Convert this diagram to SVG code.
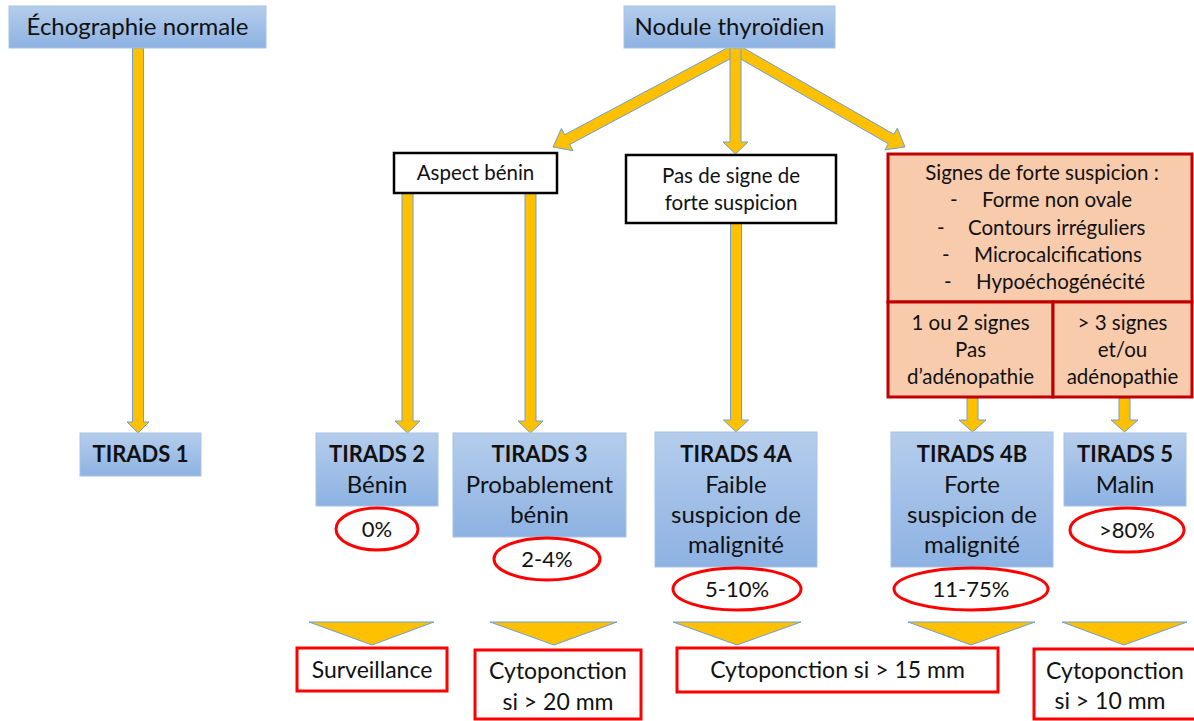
<svg xmlns="http://www.w3.org/2000/svg" width="1194" height="721" viewBox="0 0 1194 721">
<defs>
<linearGradient id="blue" x1="0" y1="0" x2="0" y2="1">
<stop offset="0" stop-color="#b5cdec"/>
<stop offset="1" stop-color="#8db2e2"/>
</linearGradient>
<style>
text{font-family:Lato,"Open Sans","Liberation Sans",sans-serif;fill:#111;text-anchor:middle}
.bx{fill:url(#blue);stroke:#a6c2e6;stroke-width:1}
.wb{fill:#fff;stroke:#000;stroke-width:2.5}
.pk{fill:#f8cbad;stroke:#c00000;stroke-width:3}
.rb{fill:#fff;stroke:#ff0000;stroke-width:3}
.ov{fill:#fff;stroke:#ff0000;stroke-width:3}
.ar{fill:#ffc000;stroke:#6d9fd6;stroke-width:1}
.t24{font-size:24px}
.t21{font-size:20.5px}
.t22{font-size:22px}
.t23{font-size:23px}
.tb{font-size:22px;font-weight:bold}
.tl{text-anchor:start}
</style>
</defs>
<rect width="1194" height="721" fill="#fff"/>
<g id="connectors">
<polygon class="ar" points="732.5,45.1 564.7,134.7 561.4,128.5 553,147 573,150.7 569.7,144.5 737.5,54.9"/>
<polygon class="ar" points="738.7,45.2 893.9,134.3 897.3,128.2 905,147 884.9,149.9 888.4,143.8 733.3,54.8"/>
<polygon class="ar" points="730,48 741,48 741,142 748,142 735.5,154 723,142 730,142"/>
<polygon class="ar" points="132.5,48 143.5,48 143.5,422 149,422 138,433 127,422 132.5,422"/>
<polygon class="ar" points="402,193 413,193 413,421 420,421 407.5,433 395,421 402,421"/>
<polygon class="ar" points="525,193 536,193 536,421 543,421 530.5,433 518,421 525,421"/>
<polygon class="ar" points="730.5,223 741.5,223 741.5,420 748.5,420 736,432 723.5,420 730.5,420"/>
<polygon class="ar" points="967,398 978,398 978,420 986,420 972.5,432 959,420 967,420"/>
<polygon class="ar" points="1119,398 1130,398 1130,420 1138,420 1124.5,432 1111,420 1119,420"/>
<polygon class="ar" points="309,622 434,622 372,645"/>
<polygon class="ar" points="490,622 617,622 554,645"/>
<polygon class="ar" points="673,622 801,622 737,645"/>
<polygon class="ar" points="908,622 1035,622 971,645"/>
<polygon class="ar" points="1062,622 1187,622 1124,645"/>
</g>
<g id="echo">
<rect class="bx" x="9" y="6" width="257" height="42"/>
<text class="t24" x="137.5" y="35">Échographie normale</text>
</g>
<g id="nodule">
<rect class="bx" x="624" y="6" width="211" height="42"/>
<text class="t24" x="729.5" y="35">Nodule thyroïdien</text>
</g>
<g id="aspect">
<rect class="wb" x="394" y="153" width="163" height="40"/>
<text class="t21" x="475.5" y="180">Aspect bénin</text>
</g>
<g id="pasdesigne">
<rect class="wb" x="626" y="155" width="210" height="68"/>
<text class="t21" x="731" y="183">Pas de signe de</text>
<text class="t21" x="731" y="210">forte suspicion</text>
</g>
<g id="signes">
<rect class="pk" x="888" y="154" width="304" height="148"/>
<text class="t21" x="1042" y="180">Signes de forte suspicion :</text>
<text class="t21 tl" y="207"><tspan x="950">-</tspan><tspan x="982">Forme non ovale</tspan></text>
<text class="t21 tl" y="235"><tspan x="937">-</tspan><tspan x="968">Contours irréguliers</tspan></text>
<text class="t21 tl" y="262"><tspan x="942">-</tspan><tspan x="974">Microcalcifications</tspan></text>
<text class="t21 tl" y="289"><tspan x="944">-</tspan><tspan x="976">Hypoéchogénécité</tspan></text>
</g>
<g id="signes12">
<rect class="pk" x="888" y="302" width="165" height="95"/>
<text class="t21" x="970.5" y="330">1 ou 2 signes</text>
<text class="t21" x="970.5" y="357">Pas</text>
<text class="t21" x="970.5" y="384">d’adénopathie</text>
</g>
<g id="signes3">
<rect class="pk" x="1053" y="302" width="139" height="95"/>
<text class="t21" x="1122.5" y="330">&gt; 3 signes</text>
<text class="t21" x="1122.5" y="357">et/ou</text>
<text class="t21" x="1122.5" y="384">adénopathie</text>
</g>
<g id="tirads1">
<rect class="bx" x="80" y="433" width="121" height="43"/>
<text class="tb" x="140.5" y="462">TIRADS 1</text>
</g>
<g id="tirads2">
<rect class="bx" x="316" y="433" width="122" height="73"/>
<text class="tb" x="377" y="462">TIRADS 2</text>
<text class="t24" x="377" y="493">Bénin</text>
</g>
<g id="tirads3">
<rect class="bx" x="453" y="433" width="173" height="104"/>
<text class="tb" x="539.5" y="462">TIRADS 3</text>
<text class="t24" x="539.5" y="493">Probablement</text>
<text class="t24" x="539.5" y="523">bénin</text>
</g>
<g id="tirads4a">
<rect class="bx" x="655" y="432" width="162" height="135"/>
<text class="tb" x="736" y="462">TIRADS 4A</text>
<text class="t24" x="736" y="493">Faible</text>
<text class="t24" x="736" y="523">suspicion de</text>
<text class="t24" x="736" y="553">malignité</text>
</g>
<g id="tirads4b">
<rect class="bx" x="891" y="432" width="162" height="135"/>
<text class="tb" x="972" y="462">TIRADS 4B</text>
<text class="t24" x="972" y="493">Forte</text>
<text class="t24" x="972" y="523">suspicion de</text>
<text class="t24" x="972" y="553">malignité</text>
</g>
<g id="tirads5">
<rect class="bx" x="1064" y="433" width="122" height="73"/>
<text class="tb" x="1125" y="462">TIRADS 5</text>
<text class="t24" x="1125" y="493">Malin</text>
</g>
<g id="p0">
<ellipse class="ov" cx="377" cy="529" rx="41" ry="21"/>
<text class="t22" x="377" y="537">0%</text>
</g>
<g id="p24">
<ellipse class="ov" cx="547" cy="559" rx="53" ry="21"/>
<text class="t22" x="547" y="567">2-4%</text>
</g>
<g id="p510">
<ellipse class="ov" cx="737" cy="589" rx="64" ry="21"/>
<text class="t22" x="737" y="597">5-10%</text>
</g>
<g id="p1175">
<ellipse class="ov" cx="971" cy="589" rx="77" ry="21"/>
<text class="t22" x="971" y="597">11-75%</text>
</g>
<g id="p80">
<ellipse class="ov" cx="1127" cy="530" rx="57" ry="22"/>
<text class="t22" x="1127" y="538">&gt;80%</text>
</g>
<g id="surveillance">
<rect class="rb" x="297" y="648" width="150" height="43"/>
<text class="t23" x="372" y="678">Surveillance</text>
</g>
<g id="cyto20">
<rect class="rb" x="475" y="650" width="166" height="69"/>
<text class="t23" x="558" y="679">Cytoponction</text>
<text class="t23" x="558" y="710">si &gt; 20 mm</text>
</g>
<g id="cyto15">
<rect class="rb" x="677" y="648" width="321" height="44"/>
<text class="t23" x="837.5" y="678">Cytoponction si &gt; 15 mm</text>
</g>
<g id="cyto10">
<rect class="rb" x="1034" y="649" width="162" height="70"/>
<text class="t23" x="1115" y="679">Cytoponction</text>
<text class="t23" x="1110" y="709">si &gt; 10 mm</text>
</g>
</svg>
